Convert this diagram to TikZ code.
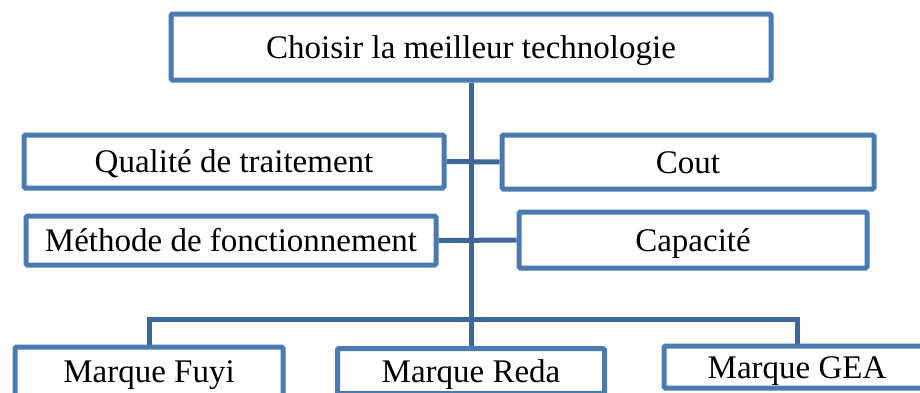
\documentclass[tikz,border=0pt]{standalone}
\usepackage{fontspec}
\setmainfont{Liberation Serif}
\definecolor{boxblue}{RGB}{74,122,175}
\definecolor{lineblue}{RGB}{62,102,150}
\begin{document}
\begin{tikzpicture}[x=1pt,y=-1pt,
  box/.style={draw=boxblue, line width=5pt, rounded corners=1.5pt, fill=white,
    inner sep=0pt, text height=22pt, text depth=0pt,
    font=\fontsize{33}{40}\selectfont},
  conn/.style={draw=lineblue, line width=5pt}]
\clip (0,0) rectangle (920,392);
\useasboundingbox (0,0) rectangle (920,392);
\fill[white] (0,0) rectangle (920,392);
% boxes
\node[box, minimum width=600pt, minimum height=66pt] (top) at (471,47) {Choisir la meilleur technologie};
\node[box, minimum width=420pt, minimum height=53pt] (qual) at (234,161.5) {Qualité de traitement};
\node[box, minimum width=410pt, minimum height=49pt] (meth) at (231,240.5) {Méthode de fonctionnement};
\node[box, minimum width=372pt, minimum height=54pt] (cout) at (688,162) {Cout};
\node[box, minimum width=348pt, minimum height=56pt] (capa) at (693,240) {Capacité};
\node[box, minimum width=268pt, minimum height=49pt] (fuyi) at (149,371.5) {Marque Fuyi};
\node[box, minimum width=267pt, minimum height=45pt] (reda) at (471,371) {Marque Reda};
\node[box, minimum width=266pt, minimum height=42pt] (gea) at (797,367) {Marque GEA};
% connectors
\coordinate (bus) at (471,319);
\draw[conn] (top.south) -- (reda.north);
\draw[conn] (qual.east) -- (cout.west);
\draw[conn] (meth.east) -- (capa.west);
\draw[conn] (fuyi.north) |- (bus) -| (gea.north);
\end{tikzpicture}
\end{document}
